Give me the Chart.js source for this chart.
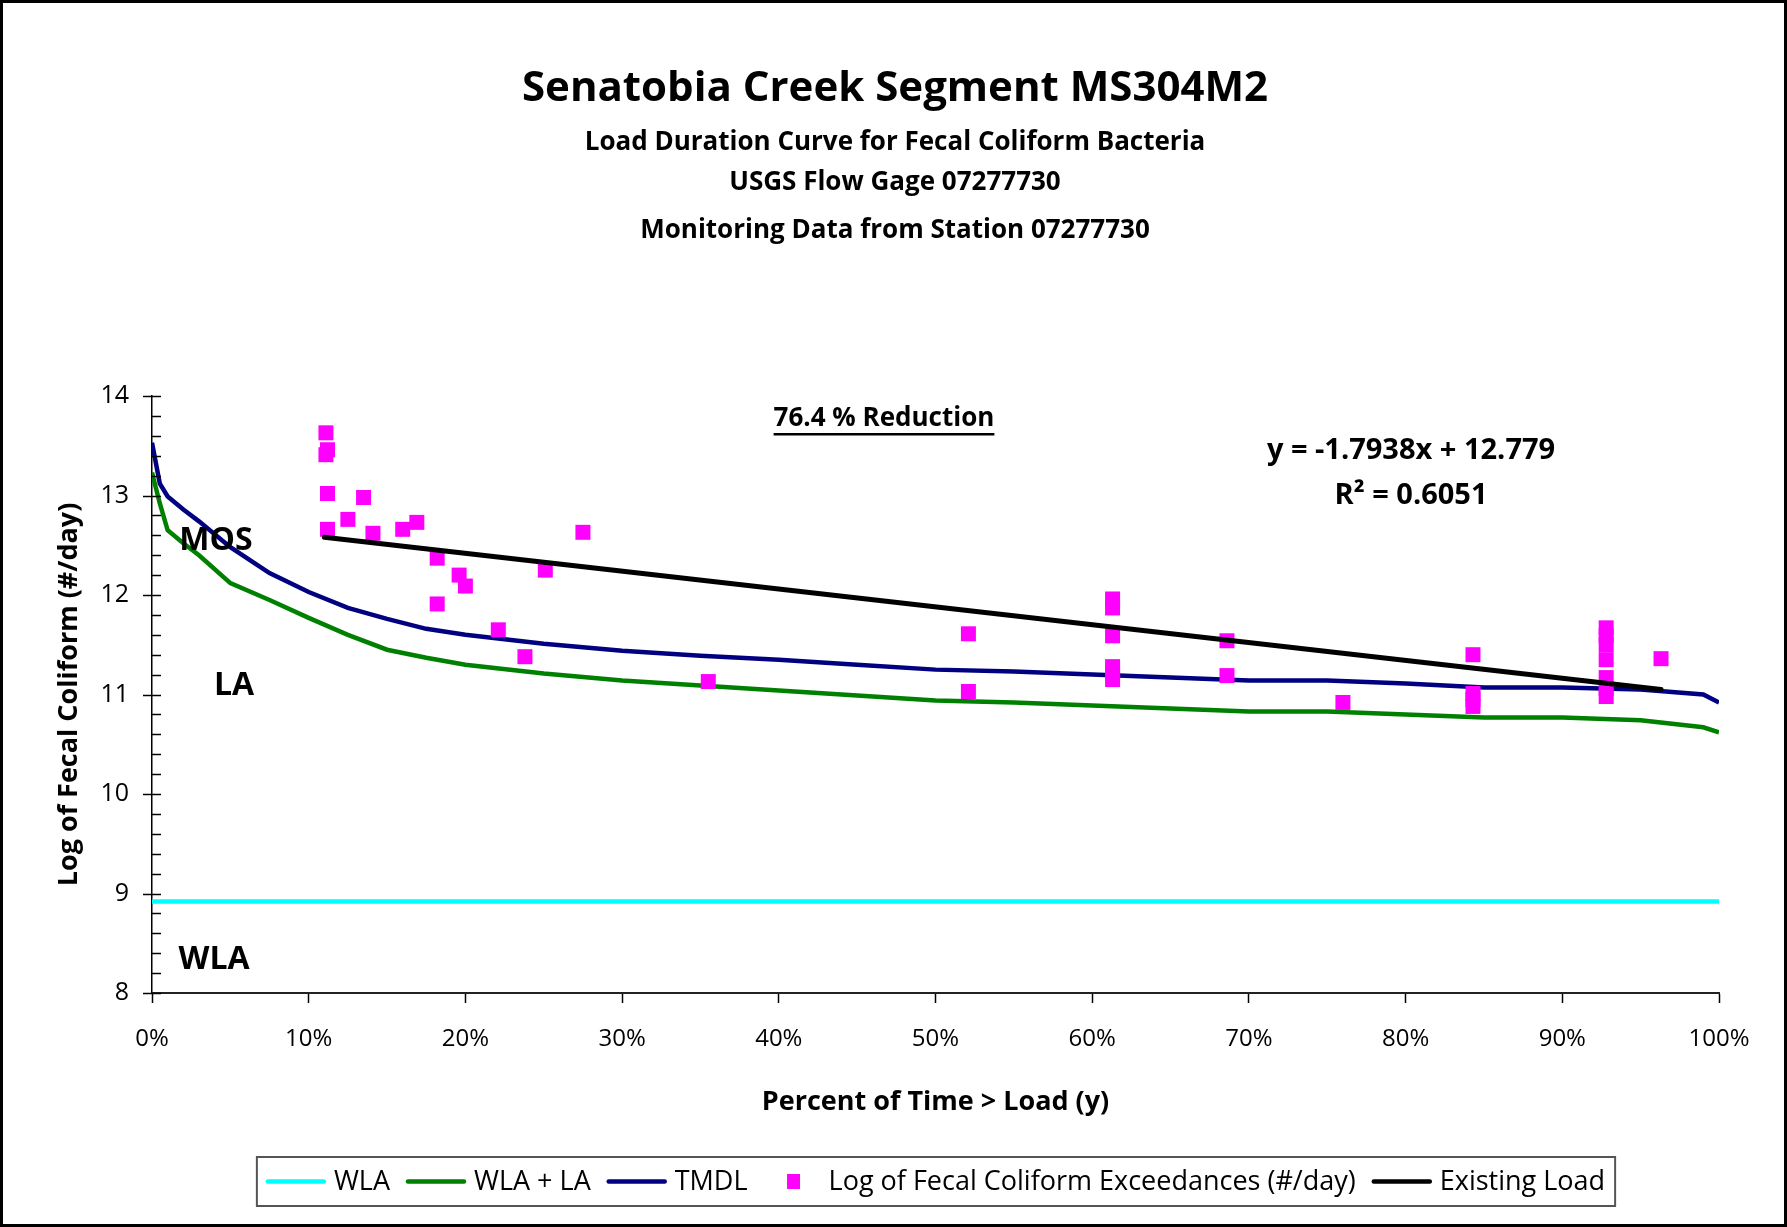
<!DOCTYPE html>
<html>
<head>
<meta charset="utf-8">
<title>Senatobia Creek Segment MS304M2</title>
<script src="https://cdn.jsdelivr.net/npm/chart.js@4.4.1/dist/chart.umd.min.js"></script>
<style>
  body { margin: 0; background: #fff; }
  #frame { width: 1787px; height: 1227px; box-sizing: border-box; border: 3px solid #000; background: #fff; }
  canvas { display: block; }
</style>
</head>
<body>
<div id="frame"><canvas id="chart-ldc" width="1781" height="1221"></canvas></div>
<script>
// LOAD DURATION CURVE - DATA
const pctX = [0, 0.005, 0.01, 0.02, 0.03, 0.05, 0.075, 0.10, 0.125, 0.15, 0.175, 0.20, 0.25, 0.30, 0.35,
    0.40, 0.45, 0.50, 0.55, 0.60, 0.65, 0.70, 0.75, 0.80, 0.85, 0.90, 0.95, 0.99, 1.00];

const tmdlY = [13.53, 13.12, 12.99, 12.86, 12.74, 12.48, 12.22, 12.03, 11.87, 11.76, 11.66, 11.60, 11.51, 11.44, 11.39,
    11.35, 11.30, 11.25, 11.23, 11.20, 11.17, 11.14, 11.14, 11.11, 11.07, 11.07, 11.05, 11.00, 10.92];

const wlaLaY = [13.23, 12.92, 12.65, 12.52, 12.40, 12.12, 11.95, 11.77, 11.60, 11.45, 11.37, 11.30, 11.21, 11.14, 11.09,
    11.04, 10.99, 10.94, 10.92, 10.89, 10.86, 10.83, 10.83, 10.80, 10.77, 10.77, 10.74, 10.67, 10.62];

const wlaX = [0, 1];
const wlaY = [8.92, 8.92];

const exceedX = [0.111, 0.112, 0.111, 0.112, 0.112, 0.125, 0.135, 0.141, 0.160, 0.169,
    0.182, 0.182, 0.196, 0.200, 0.221, 0.238, 0.251, 0.275, 0.355, 0.521,
    0.521, 0.613, 0.613, 0.613, 0.613, 0.613, 0.613, 0.686, 0.686, 0.760,
    0.843, 0.843, 0.843, 0.843, 0.928, 0.928, 0.928, 0.928, 0.928, 0.928,
    0.928, 0.963];
const exceedY = [13.63, 13.46, 13.41, 13.02, 12.66, 12.76, 12.98, 12.62, 12.66, 12.73,
    12.37, 11.91, 12.20, 12.09, 11.65, 11.38, 12.25, 12.63, 11.13, 11.61,
    11.03, 11.96, 11.87, 11.59, 11.28, 11.21, 11.15, 11.54, 11.19, 10.92,
    11.40, 11.01, 10.95, 10.88, 11.67, 11.59, 11.50, 11.35, 11.17, 11.06,
    10.98, 11.36];

const existX = [0.110, 0.963];
const existY = [12.58, 11.05];

const yTicks = [8, 9, 10, 11, 12, 13, 14];

const titleText = 'Senatobia Creek Segment MS304M2';
const subTitles = ['Load Duration Curve for Fecal Coliform Bacteria', 'USGS Flow Gage 07277730', 'Monitoring Data from Station 07277730'];

const FONT = '"Open Sans", "DejaVu Sans", sans-serif';
Chart.defaults.font.family = FONT;
Chart.defaults.color = '#000';

const toPoints = (xs, ys) => xs.map((x, i) => ({ x: x, y: ys[i] }));

// minor ticks on the y axis (majors cross the axis, minors point inwards)
const yAxisTicks = {
    id: 'yAxisTicks',
    afterDraw(chart) {
        const ctx = chart.ctx;
        const ys = chart.scales.y;
        const x0 = chart.chartArea.left;
        ctx.save();
        ctx.strokeStyle = '#000';
        ctx.lineWidth = 1.5;
        for (let i = 0; i <= 30; i++) {
            const v = ys.min + i * 0.2;
            const py = Math.round(ys.getPixelForValue(v)) + 0.5;
            ctx.beginPath();
            ctx.moveTo(i % 5 === 0 ? x0 - 9 : x0, py);
            ctx.lineTo(x0 + 9, py);
            ctx.stroke();
        }
        ctx.restore();
    }
};

// titles and text annotations
const chartText = {
    id: 'chartText',
    afterDraw(chart) {
        const ctx = chart.ctx;
        ctx.save();
        ctx.fillStyle = '#000';
        ctx.textAlign = 'center';
        ctx.textBaseline = 'middle';

        ctx.font = 'bold 42px ' + FONT;
        ctx.fillText(titleText, 892, 86);
        ctx.font = 'bold 26px ' + FONT;
        ctx.fillText(subTitles[0], 892, 140);
        ctx.fillText(subTitles[1], 892, 180);
        ctx.fillText(subTitles[2], 892, 228);

        ctx.font = 'bold 26px ' + FONT;
        const red = '76.4 % Reduction';
        ctx.fillText(red, 881, 416);
        const rw = ctx.measureText(red).width;
        ctx.fillRect(881 - rw / 2, 430, rw, 2.5);

        ctx.font = 'bold 29px ' + FONT;
        ctx.fillText('y = -1.7938x + 12.779', 1408, 448);
        ctx.fillText('R\u00B2 = 0.6051', 1408, 493);

        ctx.font = 'bold 32px ' + FONT;
        ctx.fillText('MOS', 213, 538);
        ctx.fillText('LA', 231, 683);
        ctx.fillText('WLA', 211, 957);
        ctx.restore();
    }
};

// boxed legend under the x axis title
const legendBox = {
    id: 'legendBox',
    afterDraw(chart) {
        const ctx = chart.ctx;
        ctx.save();
        ctx.font = '27px ' + FONT;
        const items = chart.data.datasets.map(ds => ({
            ds: ds,
            mark: ds.showLine === false ? 57 : 60,
            w: ctx.measureText(ds.label).width
        }));
        const gapText = 8, gapItem = 16;
        let total = 0;
        items.forEach(it => { total += it.mark + gapText + it.w; });
        total += gapItem * (items.length - 1);

        const cx = (chart.chartArea.left + chart.chartArea.right) / 2;
        const cy = 1178.5;
        let x = cx - total / 2;

        ctx.strokeStyle = '#555';
        ctx.lineWidth = 2;
        ctx.strokeRect(x - 9, cy - 24.5, total + 19, 49);

        ctx.textAlign = 'left';
        ctx.textBaseline = 'middle';
        items.forEach(it => {
            if (it.ds.showLine === false) {
                ctx.fillStyle = it.ds.backgroundColor;
                ctx.fillRect(x + 30 - 6.5, cy - 7.5, 13, 15);
            } else {
                ctx.strokeStyle = it.ds.borderColor;
                ctx.lineWidth = 4.5;
                ctx.lineCap = 'round';
                ctx.beginPath();
                ctx.moveTo(x + 2, cy);
                ctx.lineTo(x + it.mark - 2, cy);
                ctx.stroke();
            }
            x += it.mark + gapText;
            ctx.fillStyle = '#000';
            ctx.fillText(it.ds.label, x, cy + 1);
            x += it.w + gapItem;
        });
        ctx.restore();
    }
};

const ldcCot = document.getElementById('chart-ldc');

let ldcChart = new Chart(ldcCot, {
    type: 'scatter',
    data: {
        datasets: [{
            label: 'WLA',
            data: toPoints(wlaX, wlaY),
            showLine: true,
            borderColor: '#00FFFF',
            borderWidth: 4.5,
            pointRadius: 0,
            order: 4
        }, {
            label: 'WLA + LA',
            data: toPoints(pctX, wlaLaY),
            showLine: true,
            borderColor: '#008000',
            borderWidth: 4.5,
            pointRadius: 0,
            order: 3
        }, {
            label: 'TMDL',
            data: toPoints(pctX, tmdlY),
            showLine: true,
            borderColor: '#000080',
            borderWidth: 4.5,
            pointRadius: 0,
            order: 2
        }, {
            label: 'Log of Fecal Coliform Exceedances (#/day)',
            data: toPoints(exceedX, exceedY),
            showLine: false,
            backgroundColor: '#FF00FF',
            borderColor: '#FF00FF',
            borderWidth: 0,
            pointStyle: 'rect',
            pointRadius: 10.6,
            order: 1
        }, {
            label: 'Existing Load',
            data: toPoints(existX, existY),
            showLine: true,
            borderColor: '#000000',
            borderWidth: 5,
            borderCapStyle: 'round',
            pointRadius: 0,
            order: 0
        }]
    },
    options: {
        responsive: false,
        animation: false,
        events: [],
        layout: {
            padding: { left: 0, right: 65, top: 393, bottom: 81 }
        },
        scales: {
            x: {
                type: 'linear',
                min: 0,
                max: 1,
                ticks: {
                    stepSize: 0.1,
                    maxRotation: 0,
                    padding: 22,
                    font: { size: 24 },
                    color: '#000',
                    callback: v => Math.round(v * 100) + '%'
                },
                grid: {
                    drawOnChartArea: false,
                    tickLength: 10,
                    tickColor: '#000',
                    tickWidth: 1.5
                },
                border: { color: '#222', width: 2 },
                title: {
                    display: true,
                    text: 'Percent of Time > Load (y)',
                    font: { size: 27, weight: 'bold' },
                    color: '#000',
                    padding: { top: 0, bottom: 24 }
                },
                afterFit(scale) { scale.height = 150; }
            },
            y: {
                min: 8,
                max: 14,
                afterBuildTicks(scale) { scale.ticks = yTicks.map(v => ({ value: v })); },
                ticks: {
                    padding: 23,
                    font: { size: 25 },
                    color: '#000'
                },
                grid: { drawOnChartArea: false, drawTicks: false },
                border: { color: '#000', width: 1.5 },
                title: {
                    display: true,
                    text: 'Log of Fecal Coliform (#/day)',
                    font: { size: 27, weight: 'bold' },
                    color: '#000',
                    padding: { top: 50, bottom: 0 }
                },
                afterFit(scale) { scale.width = 149; }
            }
        },
        plugins: {
            legend: { display: false },
            tooltip: { enabled: false }
        }
    },
    plugins: [yAxisTicks, chartText, legendBox]
});
</script>
</body>
</html>
